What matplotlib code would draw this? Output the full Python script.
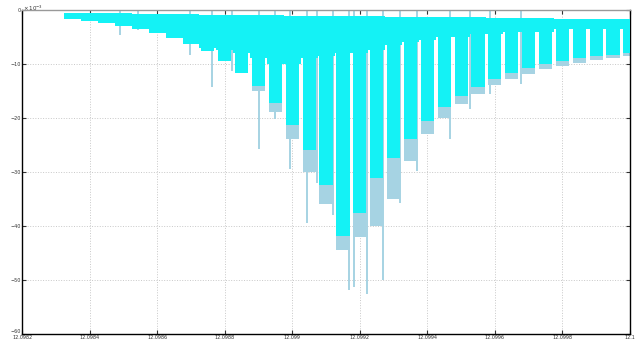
import matplotlib
matplotlib.use("Agg")
import matplotlib.pyplot as plt

# comb columns of the trace (x in data units, y in units of 1e-3)
tooth_x = [12.09835, 12.0984, 12.09845, 12.0985, 12.09855, 12.0986, 12.09865,
           12.0987, 12.09875, 12.0988, 12.09885, 12.0989, 12.09895, 12.099,
           12.09905, 12.0991, 12.09915, 12.0992, 12.09925, 12.0993, 12.09935,
           12.0994, 12.09945, 12.0995, 12.09955, 12.0996, 12.09965, 12.0997,
           12.09975, 12.0998, 12.09985, 12.0999, 12.09995, 12.1]
tooth_top = [-0.5, -0.5, -0.6, -0.6, -0.7, -0.7, -0.8, -0.8, -0.9, -0.9, -1.0,
             -1.0, -1.0, -1.1, -1.1, -1.1, -1.2, -1.2, -1.2, -1.3, -1.3, -1.3,
             -1.4, -1.4, -1.4, -1.5, -1.5, -1.5, -1.5, -1.6, -1.6, -1.6, -1.6, -1.6]
tooth_depth = [-1.6, -2.0, -2.5, -3.0, -3.6, -4.3, -5.2, -6.3, -7.6, -9.4, -11.6,
               -14.1, -17.2, -21.4, -26.0, -32.5, -41.8, -37.6, -31.2, -27.5,
               -23.9, -20.6, -18.0, -16.0, -14.3, -12.8, -11.7, -10.8, -10.1,
               -9.5, -9.0, -8.6, -8.3, -7.9]
gap_depth = [-1.6, -2.0, -2.5, -3.0, -3.6, -4.3, -5.2, -6.3, -7.0, -7.5, -8.0,
             -9.0, -10.0, -10.0, -9.0, -8.5, -8.0, -8.0, -7.5, -6.5, -6.0, -5.5,
             -5.0, -5.0, -4.5, -4.5, -4.0, -4.0, -4.0, -3.5, -3.5, -3.5, -3.5, -3.5]
shade_depth = [-1.6, -2.0, -2.5, -3.0, -3.6, -4.3, -5.2, -6.3, -7.6, -9.4, -11.6,
               -15.0, -19.0, -24.0, -30.0, -36.0, -44.5, -42.0, -40.0, -35.0,
               -28.0, -23.0, -20.0, -17.5, -15.5, -14.0, -12.8, -11.8, -11.0,
               -10.3, -9.8, -9.3, -9.0, -8.6]

# deep narrow spikes
spike_x = [12.09849, 12.098544, 12.098698, 12.098763, 12.098822, 12.098902,
           12.09895, 12.098994, 12.099044, 12.099074, 12.099121, 12.099169,
           12.099184, 12.099222, 12.09927, 12.09932, 12.09937, 12.099468,
           12.099527, 12.099587, 12.099676]
spike_depth = [-4.6, -3.7, -8.3, -14.3, -11.4, -25.7, -20.2, -29.4, -39.4, -32.0,
               -38.0, -51.9, -51.4, -52.7, -50.1, -35.8, -29.9, -23.9, -18.3,
               -15.6, -13.8]

x_ticks = [12.0982, 12.0984, 12.0986, 12.0988, 12.099, 12.0992, 12.0994,
           12.0996, 12.0998, 12.1]
x_labels = ["12.0982", "12.0984", "12.0986", "12.0988", "12.099", "12.0992",
            "12.0994", "12.0996", "12.0998", "12.1"]
y_ticks = [0, -10, -20, -30, -40, -50, -60]

cyan = "#14f2f5"
light = "#a6d3e3"
step = 0.00005

fig = plt.figure(figsize=(6.35, 3.42), dpi=100)
ax = fig.add_axes([0.035, 0.024, 0.957, 0.947])

ax.vlines(spike_x, 0, spike_depth, color=light, lw=1.4, zorder=1)
ax.bar(tooth_x, [d - t for d, t in zip(shade_depth, tooth_top)], bottom=tooth_top,
       width=step * 0.78, color=light, lw=0, zorder=2)
ax.bar(tooth_x, [d - t for d, t in zip(gap_depth, tooth_top)], bottom=tooth_top,
       width=step, color=cyan, lw=0, zorder=3)
ax.bar(tooth_x, [d - t for d, t in zip(tooth_depth, tooth_top)], bottom=tooth_top,
       width=step * 0.78, color=cyan, lw=0, zorder=3)

ax.set_xlim(12.0982, 12.1)
ax.set_ylim(-60, 0)
ax.set_xticks(x_ticks)
ax.set_xticklabels(x_labels)
ax.set_yticks(y_ticks)
ax.grid(True, ls=":", color="#c8c8c8", lw=0.7)
ax.set_axisbelow(True)
ax.tick_params(direction="in", top=True, right=True, length=3, width=0.8,
               labelsize=3.5, pad=1, colors="#333333")
ax.get_yticklabels()[-1].set_va("bottom")
for s in ax.spines.values():
    s.set_linewidth(1.0)
ax.spines["top"].set_color("#999999")

fig.text(0.037, 0.99, r"$\times\,10^{-3}$", fontsize=4, va="top", color="#333333")

fig.savefig("out.png", dpi=100)
